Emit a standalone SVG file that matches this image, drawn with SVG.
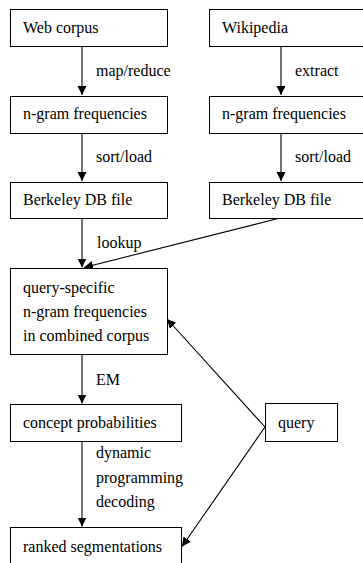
<svg xmlns="http://www.w3.org/2000/svg" width="363" height="563" viewBox="0 0 363 563">
<style>
.box{fill:#fff;stroke:#000;stroke-width:1}
text{font-size:16px;fill:#000;font-family:'Liberation Serif','Times New Roman',serif}
.edge{stroke:#000;stroke-width:1.1;fill:none}
</style>
<defs>
<marker id="ah" markerWidth="10" markerHeight="10" refX="9" refY="4.5" orient="auto" markerUnits="userSpaceOnUse">
<path d="M0,0 L9,4.5 L0,9 Z" fill="#000"/>
</marker>
</defs>
<rect width="363" height="563" fill="#fff"/>
<g id="connectors">
<line class="edge" x1="82" y1="46" x2="82" y2="95" marker-end="url(#ah)"/>
<line class="edge" x1="281" y1="46" x2="281" y2="95" marker-end="url(#ah)"/>
<line class="edge" x1="82" y1="133" x2="82" y2="181" marker-end="url(#ah)"/>
<line class="edge" x1="281" y1="133" x2="281" y2="181" marker-end="url(#ah)"/>
<line class="edge" x1="82" y1="218" x2="82" y2="267.5" marker-end="url(#ah)"/>
<line class="edge" x1="280" y1="218" x2="84" y2="267.5" marker-end="url(#ah)"/>
<line class="edge" x1="82" y1="354" x2="82" y2="403.5" marker-end="url(#ah)"/>
<line class="edge" x1="82" y1="441" x2="82" y2="526.5" marker-end="url(#ah)"/>
<line class="edge" x1="265" y1="427" x2="167" y2="319" marker-end="url(#ah)"/>
<line class="edge" x1="265" y1="427" x2="182" y2="546.5" marker-end="url(#ah)"/>
<text x="96" y="76">map/reduce</text>
<text x="295" y="76">extract</text>
<text x="96" y="162">sort/load</text>
<text x="295" y="162">sort/load</text>
<text x="97" y="248">lookup</text>
<text x="96" y="385">EM</text>
<text x="96" y="458">dynamic</text>
<text x="96" y="483">programming</text>
<text x="96" y="507">decoding</text>
</g>
<g id="web"><rect class="box" x="10.5" y="9.5" width="157" height="37"/><text x="23" y="33">Web corpus</text></g>
<g id="wiki"><rect class="box" x="209.5" y="9.5" width="170" height="37"/><text x="222" y="33">Wikipedia</text></g>
<g id="ngram1"><rect class="box" x="10.5" y="96.5" width="157" height="37"/><text x="23" y="119">n-gram frequencies</text></g>
<g id="ngram2"><rect class="box" x="209.5" y="96.5" width="170" height="37"/><text x="222" y="119">n-gram frequencies</text></g>
<g id="bdb1"><rect class="box" x="10.5" y="182.5" width="157" height="36"/><text x="23" y="205">Berkeley DB file</text></g>
<g id="bdb2"><rect class="box" x="209.5" y="182.5" width="170" height="36"/><text x="222" y="205">Berkeley DB file</text></g>
<g id="qs"><rect class="box" x="10.5" y="268.5" width="157" height="86"/><text x="23" y="293">query-specific</text><text x="23" y="317">n-gram frequencies</text><text x="23" y="341">in combined corpus</text></g>
<g id="concept"><rect class="box" x="10.5" y="404.5" width="171" height="37"/><text x="23" y="428">concept probabilities</text></g>
<g id="query"><rect class="box" x="265.5" y="403.5" width="72" height="38"/><text x="278" y="428">query</text></g>
<g id="ranked"><rect class="box" x="10.5" y="527.5" width="171" height="50"/><text x="23" y="552">ranked segmentations</text></g>
</svg>
